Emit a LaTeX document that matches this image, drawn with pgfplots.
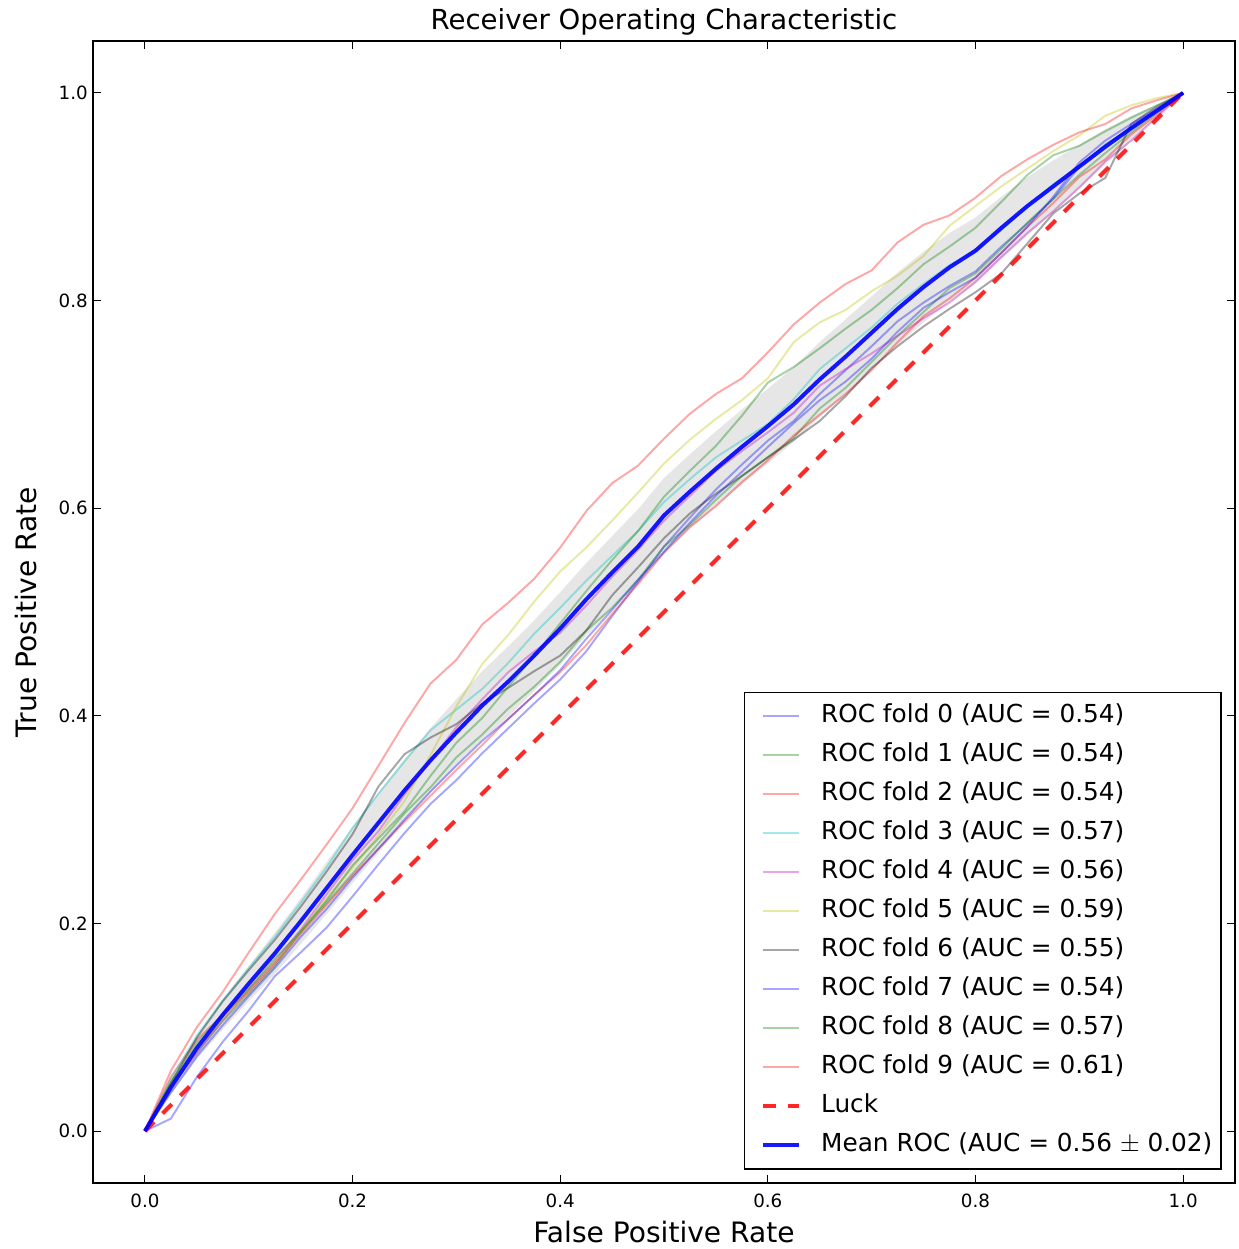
\documentclass[border=0pt]{standalone}
\usepackage{pgfplots}
\pgfplotsset{compat=1.18}
\usepackage{pgfplotstable}
\usepgfplotslibrary{fillbetween}
\usepackage{fontspec}
\setmainfont{DejaVu Sans}
\definecolor{mb}{rgb}{0,0,1}
\definecolor{mg}{rgb}{0,0.5,0}
\definecolor{mr}{rgb}{1,0,0}
\definecolor{mc}{rgb}{0,0.75,0.75}
\definecolor{mm}{rgb}{0.75,0,0.75}
\definecolor{my}{rgb}{0.75,0.75,0}
\definecolor{mk}{rgb}{0,0,0}

\pgfplotstableread{
x     m    up   lo   f0   f1   f2   f3   f4   f5   f6   f7   f8   f9
0     0    0    0    0    0    0    0    0    0    0    0    0    0
0.025 .042 .048 .036 .012 .044 .052 .050 .042 .047 .046 .037 .047 .058
0.05  .080 .091 .069 .052 .076 .088 .092 .075 .080 .090 .072 .085 .100
0.075 .112 .126 .098 .086 .106 .112 .126 .107 .107 .125 .102 .112 .134
0.1   .142 .159 .125 .116 .132 .134 .157 .136 .137 .155 .130 .137 .172
0.125 .171 .191 .151 .149 .159 .161 .187 .163 .163 .184 .157 .166 .209
0.15  .202 .224 .180 .172 .192 .190 .220 .194 .192 .216 .187 .192 .242
0.175 .234 .259 .209 .196 .220 .218 .254 .228 .224 .250 .214 .222 .276
0.2   .266 .293 .239 .226 .248 .246 .292 .261 .254 .286 .244 .256 .311
0.225 .297 .326 .268 .257 .277 .272 .325 .289 .285 .332 .272 .282 .352
0.25  .328 .358 .298 .287 .306 .298 .356 .324 .318 .363 .300 .308 .393
0.275 .357 .388 .326 .315 .331 .323 .386 .357 .362 .379 .327 .342 .431
0.3   .384 .416 .352 .338 .360 .348 .406 .389 .409 .392 .352 .374 .454
0.325 .410 .443 .377 .364 .382 .372 .426 .416 .450 .412 .376 .398 .488
0.35  .433 .467 .399 .388 .407 .397 .451 .442 .478 .427 .397 .428 .509
0.375 .458 .492 .424 .412 .428 .420 .479 .462 .510 .443 .420 .458 .532
0.4   .484 .519 .449 .435 .452 .442 .504 .480 .539 .458 .444 .489 .562
0.425 .512 .547 .477 .462 .482 .468 .530 .506 .562 .482 .474 .520 .597
0.45  .538 .573 .503 .496 .504 .498 .554 .534 .588 .516 .502 .550 .624
0.475 .563 .599 .527 .529 .531 .527 .578 .560 .615 .543 .531 .578 .641
0.5   .593 .629 .557 .563 .563 .557 .606 .588 .643 .571 .558 .611 .667
0.525 .616 .652 .580 .591 .584 .582 .628 .612 .666 .595 .586 .636 .691
0.55  .638 .674 .602 .618 .608 .602 .649 .636 .686 .614 .612 .660 .710
0.575 .659 .695 .623 .642 .631 .625 .665 .655 .704 .631 .635 .689 .725
0.6   .679 .715 .643 .665 .649 .646 .681 .673 .725 .649 .659 .721 .750
0.625 .700 .736 .664 .684 .668 .670 .705 .692 .760 .666 .682 .736 .777
0.65  .724 .760 .688 .710 .696 .690 .734 .718 .779 .684 .704 .754 .798
0.675 .746 .782 .710 .733 .716 .710 .754 .734 .791 .708 .722 .773 .816
0.7   .769 .804 .734 .756 .741 .733 .774 .749 .809 .735 .744 .791 .829
0.725 .792 .827 .757 .780 .766 .760 .797 .766 .824 .756 .770 .812 .856
0.75  .813 .847 .779 .798 .789 .785 .816 .783 .843 .775 .793 .835 .873
0.775 .832 .865 .799 .814 .812 .802 .834 .798 .872 .792 .808 .852 .882
0.8   .848 .880 .816 .828 .826 .822 .848 .818 .891 .808 .822 .870 .899
0.825 .870 .900 .840 .852 .850 .846 .868 .842 .910 .826 .846 .895 .920
0.85  .891 .919 .863 .874 .875 .871 .891 .865 .927 .855 .871 .921 .936
0.875 .910 .935 .885 .898 .898 .894 .912 .886 .944 .884 .900 .940 .950
0.9   .929 .950 .908 .929 .921 .919 .929 .909 .959 .903 .933 .949 .962
0.925 .948 .965 .931 .950 .942 .936 .950 .934 .978 .918 .954 .963 .970
0.95  .966 .978 .954 .966 .962 .960 .966 .954 .988 .970 .970 .976 .985
0.975 .983 .989 .977 .983 .981 .979 .983 .977 .995 .987 .985 .988 .993
1     1    1    1    1    1    1    1    1    1    1    1    1    1
}\roc

\begin{document}
\begin{tikzpicture}
\begin{axis}[name=ax,
  width=22.84cm, height=22.84cm, scale only axis,
  xmin=-0.05, xmax=1.05, ymin=-0.05, ymax=1.05,
  xtick={0,0.2,0.4,0.6,0.8,1.0}, ytick={0,0.2,0.4,0.6,0.8,1.0},
  xticklabels={0.0,0.2,0.4,0.6,0.8,1.0}, yticklabels={0.0,0.2,0.4,0.6,0.8,1.0},
  tick align=inside, major tick length=0.16cm,
  tick style={black, line width=0.6pt},
  axis line style={line width=0.9pt},
  tick label style={font=\fontsize{10.4}{12}\selectfont},
  xticklabel style={yshift=-0.1cm},
  yticklabel style={xshift=0.02cm},
  xlabel={False Positive Rate}, ylabel={True Positive Rate},
  label style={font=\fontsize{16}{19}\selectfont},
  xlabel style={yshift=-0.02cm},
  ylabel style={yshift=0.2cm},
  title={Receiver Operating Characteristic},
  title style={font=\fontsize{15.7}{19}\selectfont, yshift=-6pt},
  legend cell align=left,
  legend image code/.code={\path (0cm,0cm); \draw[#1, line cap=butt] (0.22cm,0cm) -- (0.94cm,0cm);},
  legend style={at={(0.9886,0.0114)}, anchor=south east,
    font=\fontsize{14.1}{16}\selectfont, draw=black, line width=0.9pt,
    inner xsep=3pt, inner ysep=5pt, row sep=5.2pt,
    nodes={inner sep=2pt, text height=10pt, text depth=3pt},
    /tikz/every odd column/.append style={column sep=0.34cm}},
]
\addplot[mb, opacity=0.35, line width=1.1pt] table[x=x,y=f0]{\roc};
\addlegendentry{ROC fold 0 (AUC = 0.54)}
\addplot[mg, opacity=0.35, line width=1.1pt] table[x=x,y=f1]{\roc};
\addlegendentry{ROC fold 1 (AUC = 0.54)}
\addplot[mr, opacity=0.35, line width=1.1pt] table[x=x,y=f2]{\roc};
\addlegendentry{ROC fold 2 (AUC = 0.54)}
\addplot[mc, opacity=0.35, line width=1.1pt] table[x=x,y=f3]{\roc};
\addlegendentry{ROC fold 3 (AUC = 0.57)}
\addplot[mm, opacity=0.35, line width=1.1pt] table[x=x,y=f4]{\roc};
\addlegendentry{ROC fold 4 (AUC = 0.56)}
\addplot[my, opacity=0.35, line width=1.1pt] table[x=x,y=f5]{\roc};
\addlegendentry{ROC fold 5 (AUC = 0.59)}
\addplot[mk, opacity=0.35, line width=1.1pt] table[x=x,y=f6]{\roc};
\addlegendentry{ROC fold 6 (AUC = 0.55)}
\addplot[mb, opacity=0.35, line width=1.1pt] table[x=x,y=f7]{\roc};
\addlegendentry{ROC fold 7 (AUC = 0.54)}
\addplot[mg, opacity=0.35, line width=1.1pt] table[x=x,y=f8]{\roc};
\addlegendentry{ROC fold 8 (AUC = 0.57)}
\addplot[mr, opacity=0.35, line width=1.1pt] table[x=x,y=f9]{\roc};
\addlegendentry{ROC fold 9 (AUC = 0.61)}
\addplot[mr, opacity=0.85, line width=2.27pt, dash pattern=on 0.26cm off 0.24cm] coordinates {(0,0) (1,1)};
\addlegendentry{Luck}
\addplot[mb, opacity=0.9, line width=2.27pt] table[x=x,y=m]{\roc};
\addlegendentry{Mean ROC (AUC = 0.56 $\pm$ 0.02)}
\addplot[draw=none, name path=up, forget plot] table[x=x,y=up]{\roc};
\addplot[draw=none, name path=lo, forget plot] table[x=x,y=lo]{\roc};
\addplot[fill=gray, fill opacity=0.2, draw=none, forget plot] fill between[of=up and lo];
\end{axis}
\pgfresetboundingbox
\path ([xshift=-1.86cm, yshift=-1.32cm]ax.south west) rectangle ([xshift=0.06cm, yshift=0.82cm]ax.north east);
\end{tikzpicture}
\end{document}
